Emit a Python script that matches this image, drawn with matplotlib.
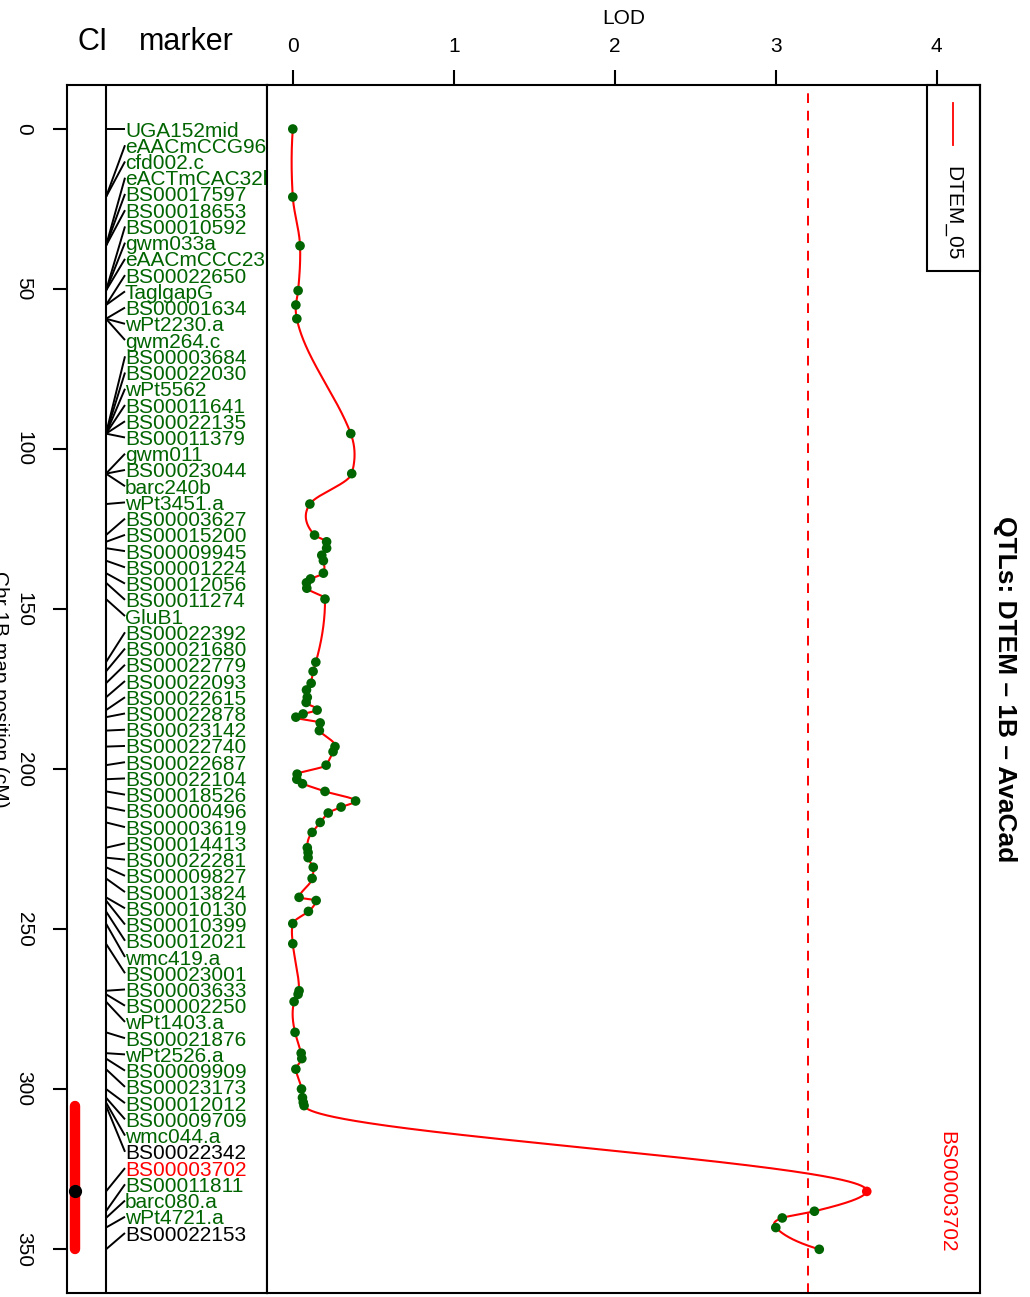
import numpy as np
import matplotlib
matplotlib.use("Agg")
import matplotlib.pyplot as plt
from matplotlib.patches import Rectangle

plt.rcParams['font.family'] = ['Liberation Sans', 'DejaVu Sans']

# ---------------- data ----------------
marker_names = [
    "UGA152mid", "eAACmCCG96", "cfd002.c", "eACTmCAC32l", "BS00017597", "BS00018653",
    "BS00010592", "gwm033a", "eAACmCCC23", "BS00022650", "TaglgapG", "BS00001634",
    "wPt2230.a", "gwm264.c", "BS00003684", "BS00022030", "wPt5562", "BS00011641",
    "BS00022135", "BS00011379", "gwm011", "BS00023044", "barc240b", "wPt3451.a",
    "BS00003627", "BS00015200", "BS00009945", "BS00001224", "BS00012056", "BS00011274",
    "GluB1", "BS00022392", "BS00021680", "BS00022779", "BS00022093", "BS00022615",
    "BS00022878", "BS00023142", "BS00022740", "BS00022687", "BS00022104", "BS00018526",
    "BS00000496", "BS00003619", "BS00014413", "BS00022281", "BS00009827", "BS00013824",
    "BS00010130", "BS00010399", "BS00012021", "wmc419.a", "BS00023001", "BS00003633",
    "BS00002250", "wPt1403.a", "BS00021876", "wPt2526.a", "BS00009909", "BS00023173",
    "BS00012012", "BS00009709", "wmc044.a", "BS00022342", "BS00003702", "BS00011811",
    "barc080.a", "wPt4721.a", "BS00022153",
]
marker_pos = [
    0.0, 21.25, 21.25, 36.5, 36.5, 36.5,
    50.5, 50.5, 50.5, 55.0, 55.0, 59.3,
    59.3, 59.3, 95.2, 95.2, 95.2, 95.2,
    95.2, 95.2, 107.7, 107.7, 107.7, 117.2,
    126.9, 129.0, 131.0, 134.9, 138.8, 141.8,
    146.9, 166.6, 169.5, 173.2, 177.6, 181.6,
    183.8, 188.0, 193.0, 198.8, 203.2, 207.0,
    211.9, 216.7, 224.6, 227.7, 230.7, 234.2,
    240.1, 241.1, 244.5, 248.3, 254.6, 269.3,
    270.4, 272.7, 282.3, 288.8, 290.5, 293.8,
    300.0, 302.7, 304.2, 305.2, 332.0, 338.2,
    340.3, 343.3, 350.1,
]

scan_pos = [
    0.0, 21.25, 36.5, 50.5, 55.0, 59.3, 95.2, 107.7, 117.2, 126.9,
    129.0, 131.0, 133.2, 134.9, 138.8, 140.6, 141.8, 143.5, 146.9, 166.6,
    169.5, 173.2, 175.3, 177.6, 179.2, 181.6, 182.8, 183.8, 185.6, 188.0,
    193.0, 194.6, 198.8, 201.6, 203.2, 204.6, 207.0, 210.0, 211.9, 213.75,
    216.7, 219.8, 224.6, 226.1, 227.7, 230.7, 234.2, 240.1, 241.1, 244.5,
    248.3, 254.6, 269.3, 270.4, 272.7, 282.3, 288.8, 290.5, 293.8, 300.0,
    302.7, 304.2, 305.2, 332.0, 338.2, 340.3, 343.3, 350.1,
]
scan_lod = [
    0.0, 0.0, 0.045, 0.033, 0.019, 0.025, 0.36, 0.366, 0.106, 0.135,
    0.21, 0.21, 0.18, 0.19, 0.19, 0.11, 0.085, 0.087, 0.20, 0.143,
    0.126, 0.114, 0.085, 0.09, 0.083, 0.151, 0.064, 0.019, 0.17, 0.165,
    0.262, 0.25, 0.207, 0.027, 0.025, 0.06, 0.20, 0.39, 0.30, 0.22,
    0.17, 0.12, 0.09, 0.095, 0.095, 0.127, 0.12, 0.039, 0.145, 0.097,
    0.0, 0.0, 0.039, 0.033, 0.008, 0.014, 0.052, 0.056, 0.019, 0.054,
    0.06, 0.065, 0.07, 3.565, 3.24, 3.04, 3.0, 3.27,
]

peak_marker = "BS00003702"
peak_pos = 332.0
ci_low, ci_high = 305.2, 350.1
ci_flank = ["BS00022342", "BS00022153"]
threshold = 3.2
trait = "DTEM_05"
title = "QTLs: DTEM \u2013 1B \u2013 AvaCad"
lod_ticks = [0, 1, 2, 3, 4]
pos_ticks = [0, 50, 100, 150, 200, 250, 300, 350]

GREEN = "#006400"
RED = "#FF0000"


def akima_curve(x, y, xs):
    """Smooth drawing curve through the points (Akima tangents, Hermite cubic)."""
    x = np.asarray(x, float)
    y = np.asarray(y, float)
    n = len(x)
    h = np.diff(x)
    m = np.diff(y) / h
    mm = np.empty(n + 3)
    mm[2:n + 1] = m
    mm[1] = 2 * mm[2] - mm[3]
    mm[0] = 2 * mm[1] - mm[2]
    mm[n + 1] = 2 * mm[n] - mm[n - 1]
    mm[n + 2] = 2 * mm[n + 1] - mm[n]
    t = np.empty(n)
    for i in range(n):
        m_im2, m_im1, m_i, m_ip1 = mm[i], mm[i + 1], mm[i + 2], mm[i + 3]
        w1 = abs(m_ip1 - m_i)
        w2 = abs(m_im1 - m_im2)
        if w1 + w2 < 1e-12:
            t[i] = 0.5 * (m_im1 + m_i)
        else:
            t[i] = (w1 * m_im1 + w2 * m_i) / (w1 + w2)
    idx = np.clip(np.searchsorted(x, xs) - 1, 0, n - 2)
    hh = h[idx]
    s = (xs - x[idx]) / hh
    h00 = 2 * s ** 3 - 3 * s ** 2 + 1
    h10 = s ** 3 - 2 * s ** 2 + s
    h01 = -2 * s ** 3 + 3 * s ** 2
    h11 = s ** 3 - s ** 2
    return h00 * y[idx] + h10 * hh * t[idx] + h01 * y[idx + 1] + h11 * hh * t[idx + 1]


# ---------------- figure ----------------
W, H = 1030, 1297
fig = plt.figure(figsize=(W / 100, H / 100), dpi=100)

top_px, bot_px = 85.0, 1293.3
y0_px, scale = 129.0, 3.2
ylim = ((bot_px - y0_px) / scale, (top_px - y0_px) / scale)
ax_bottom = 1 - bot_px / H
ax_height = (bot_px - top_px) / H

left_l, left_r = 67.3, 266.7
lod_r = 980.0
ax_left = fig.add_axes([left_l / W, ax_bottom, (left_r - left_l) / W, ax_height])
ax_lod = fig.add_axes([left_r / W, ax_bottom, (lod_r - left_r) / W, ax_height])

for ax in (ax_left, ax_lod):
    ax.set_ylim(*ylim)
    for s in ax.spines.values():
        s.set_linewidth(1.5)

# ---- left panel: CI + markers ----
ax_left.set_xlim(0, left_r - left_l)
ax_left.set_xticks([])
ax_left.set_yticks(pos_ticks)
ax_left.set_yticklabels([str(t) for t in pos_ticks])
ax_left.tick_params(axis='y', direction='out', length=10.3, width=1.5,
                    pad=14, labelsize=15, labelrotation=270)
for lab in ax_left.get_yticklabels():
    lab.set_va('center')

div_x = 106.0 - left_l
ax_left.axvline(div_x, color='black', lw=1.5)

# CI bar
ci_x = 75.0 - left_l
ax_left.plot([ci_x, ci_x], [ci_low, ci_high], color=RED, lw=7.5,
             solid_capstyle='round')
ax_left.plot([ci_x], [peak_pos], 'o', color='black', markersize=8.5)

# marker connector lines and labels
n = len(marker_names)
label_pos = np.linspace(0, 345.0, n)
lab_x = 125.0 - left_l
for name, mp, lp in zip(marker_names, marker_pos, label_pos):
    ax_left.plot([div_x, lab_x], [mp, lp], color='black', lw=1.4,
                 solid_capstyle='butt')
    if name == peak_marker:
        col = RED
    elif name in ci_flank:
        col = 'black'
    else:
        col = GREEN
    ax_left.text(lab_x, lp + 2.35, name, ha='left', va='baseline',
                 fontsize=15, color=col, clip_on=True)

# ---- LOD panel ----
ax_lod.set_xlim((left_r - 292.8) / 161.0, (lod_r - 292.8) / 161.0)
ax_lod.xaxis.tick_top()
ax_lod.set_xticks(lod_ticks)
ax_lod.set_xticklabels([str(t) for t in lod_ticks])
ax_lod.tick_params(axis='x', direction='out', length=10.8, width=1.5,
                   pad=10, labelsize=15)
ax_lod.set_yticks([])

xs = np.linspace(scan_pos[0], scan_pos[-1], 4000)
ys = akima_curve(scan_pos, scan_lod, xs)
ax_lod.plot(ys, xs, color=RED, lw=1.5)

ax_lod.axvline(threshold, color=RED, lw=1.4, linestyle=(0, (5, 4)))

dot_cols = [RED if abs(p - peak_pos) < 1e-6 else GREEN for p in scan_pos]
ax_lod.scatter(scan_lod, scan_pos, s=48, c=dot_cols, zorder=3, linewidths=0)

ax_lod.text(4.063, peak_pos, peak_marker, rotation=270, ha='center',
            va='center', fontsize=15, color=RED)

# legend box
lx0 = (926.7 - 292.8) / 161.0
lx1 = (lod_r - 292.8) / 161.0
ly_top = ylim[1]
ly_bot = (270.7 - y0_px) / scale
ax_lod.add_patch(Rectangle((lx0, ly_top), lx1 - lx0, ly_bot - ly_top,
                           fill=False, edgecolor='black', lw=1.5, clip_on=False))
leg_x = (953.0 - 292.8) / 161.0
ax_lod.plot([leg_x, leg_x], [(103 - y0_px) / scale, (145 - y0_px) / scale],
            color=RED, lw=1.3)
ax_lod.text(leg_x, (213 - y0_px) / scale, trait, rotation=270, ha='center',
            va='center', fontsize=15)

# headings
fig.text(93 / W, 1 - 42 / H, "CI", fontsize=22, ha='center', va='center')
fig.text(186 / W, 1 - 42 / H, "marker", fontsize=22, ha='center', va='center')
fig.text(623.5 / W, 1 - 18 / H, "LOD", fontsize=15, ha='center', va='center')
fig.text(1005 / W, 1 - 689 / H, title, rotation=270, fontsize=19,
         fontweight='bold', ha='center', va='center')
fig.text(-1 / W, 1 - 689.5 / H, "Chr 1B map position (cM)", rotation=270,
         fontsize=15, ha='center', va='center')

fig.savefig("out.png", dpi=100)
